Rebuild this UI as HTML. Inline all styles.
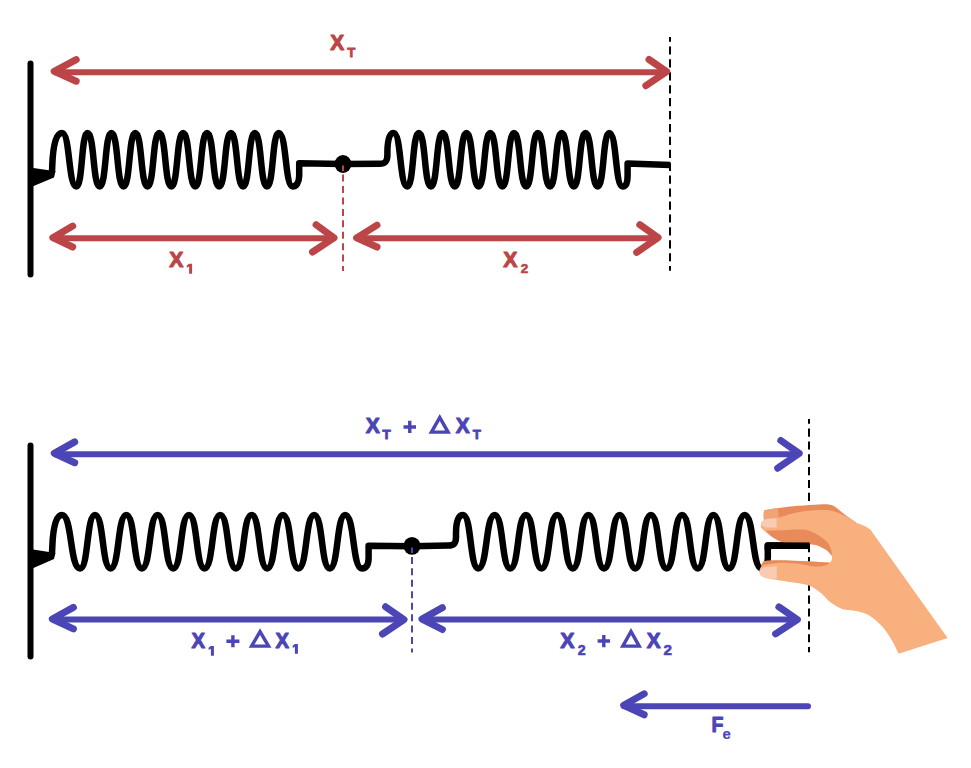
<!DOCTYPE html>
<html><head><meta charset="utf-8"><style>
html,body{margin:0;padding:0;background:#fff;}
body{width:971px;height:768px;overflow:hidden;position:relative;font-family:"Liberation Sans",sans-serif;}
svg{position:absolute;left:0;top:0;}
</style></head><body>
<svg width="971" height="768" viewBox="0 0 971 768">
<line x1="30.5" y1="63.5" x2="30.5" y2="274.5" stroke="#000" stroke-width="6" stroke-linecap="round"/>
<line x1="30.5" y1="445.5" x2="30.5" y2="656.5" stroke="#000" stroke-width="6" stroke-linecap="round"/>
<path d="M30 167.5 L55.5 171.3 L54 177.5 L30 187.5 Z" fill="#000"/>
<path d="M30 549 L55.5 553 L54 559 L30 569.5 Z" fill="#000"/>
<path d="M52 172 L52.3 165 C53 145 56 133 62 133 C70.21 133.00 68.19 186.50 76.40 186.50 C82.73 186.50 81.17 133.00 87.50 133.00 C94.45 133.00 92.75 186.50 99.70 186.50 C106.37 186.50 104.73 133.00 111.40 133.00 C118.35 133.00 116.65 186.50 123.60 186.50 C130.27 186.50 128.63 133.00 135.30 133.00 C142.25 133.00 140.55 186.50 147.50 186.50 C154.17 186.50 152.53 133.00 159.20 133.00 C166.15 133.00 164.45 186.50 171.40 186.50 C178.07 186.50 176.43 133.00 183.10 133.00 C190.05 133.00 188.35 186.50 195.30 186.50 C201.97 186.50 200.33 133.00 207.00 133.00 C213.95 133.00 212.25 186.50 219.20 186.50 C225.87 186.50 224.23 133.00 230.90 133.00 C237.85 133.00 236.15 186.50 243.10 186.50 C249.77 186.50 248.13 133.00 254.80 133.00 C261.75 133.00 260.05 186.50 267.00 186.50 C273.67 186.50 272.03 133.00 278.70 133.00 C286.74 133.00 284.76 186.50 292.80 186.50 C296 186.6 299 183 299.2 176 L299.2 163.3 L343 163.9" fill="none" stroke="#000" stroke-width="6.5" stroke-linejoin="round" stroke-linecap="butt"/>
<path d="M343 163.9 L379.5 163.8 C385 163.8 387.4 161.5 387.4 155 L387.4 152 C387.5 139 389.5 133 393.6 133 C401.41 133.00 399.49 186.50 407.30 186.50 C413.86 186.50 412.25 133.00 418.80 133.00 C425.75 133.00 424.05 186.50 431.00 186.50 C437.62 186.50 435.99 133.00 442.61 133.00 C449.56 133.00 447.86 186.50 454.81 186.50 C461.43 186.50 459.80 133.00 466.42 133.00 C473.37 133.00 471.67 186.50 478.62 186.50 C485.24 186.50 483.61 133.00 490.23 133.00 C497.18 133.00 495.48 186.50 502.43 186.50 C509.05 186.50 507.42 133.00 514.04 133.00 C520.99 133.00 519.29 186.50 526.24 186.50 C532.86 186.50 531.23 133.00 537.85 133.00 C544.80 133.00 543.10 186.50 550.05 186.50 C556.67 186.50 555.04 133.00 561.66 133.00 C568.61 133.00 566.91 186.50 573.86 186.50 C580.48 186.50 578.85 133.00 585.47 133.00 C592.42 133.00 590.72 186.50 597.67 186.50 C604.29 186.50 602.66 133.00 609.28 133.00 C616.87 133.00 615.01 186.50 622.60 186.50 C626 186.6 627.6 183 627.6 176 L627.6 163.5 L670.2 165" fill="none" stroke="#000" stroke-width="6.5" stroke-linejoin="round" stroke-linecap="butt"/>
<path d="M52 553 L52.3 547 C53 527 56 515 62 515 C72.32 515.00 69.78 568.40 80.10 568.40 C88.59 568.40 86.51 515.00 95.00 515.00 C103.89 515.00 101.71 568.40 110.60 568.40 C119.55 568.40 117.36 515.00 126.31 515.00 C135.20 515.00 133.02 568.40 141.91 568.40 C150.86 568.40 148.67 515.00 157.62 515.00 C166.51 515.00 164.33 568.40 173.22 568.40 C182.17 568.40 179.98 515.00 188.93 515.00 C197.82 515.00 195.64 568.40 204.53 568.40 C213.48 568.40 211.29 515.00 220.24 515.00 C229.13 515.00 226.95 568.40 235.84 568.40 C244.79 568.40 242.60 515.00 251.55 515.00 C260.44 515.00 258.26 568.40 267.15 568.40 C276.10 568.40 273.91 515.00 282.86 515.00 C291.75 515.00 289.57 568.40 298.46 568.40 C307.41 568.40 305.22 515.00 314.17 515.00 C323.06 515.00 320.88 568.40 329.77 568.40 C338.57 568.40 336.40 515.00 345.20 515.00 C354.60 515.00 352.30 568.40 361.70 568.40 C366 568.6 368.6 565 368.6 558 L368.6 545.8 L412 546.2" fill="none" stroke="#000" stroke-width="6.5" stroke-linejoin="round" stroke-linecap="butt"/>
<path d="M412 546.2 L448.5 545.6 C454 545.6 456 543.5 456 537 L456 533 C456.1 521 458.5 515 463 515 C471.72 515.00 469.58 568.40 478.30 568.40 C487.65 568.40 485.35 515.00 494.70 515.00 C503.59 515.00 501.41 568.40 510.30 568.40 C519.21 568.40 517.03 515.00 525.94 515.00 C534.83 515.00 532.65 568.40 541.54 568.40 C550.45 568.40 548.27 515.00 557.18 515.00 C566.07 515.00 563.89 568.40 572.78 568.40 C581.69 568.40 579.51 515.00 588.42 515.00 C597.31 515.00 595.13 568.40 604.02 568.40 C612.93 568.40 610.75 515.00 619.66 515.00 C628.55 515.00 626.37 568.40 635.26 568.40 C644.17 568.40 641.99 515.00 650.90 515.00 C659.79 515.00 657.61 568.40 666.50 568.40 C675.41 568.40 673.23 515.00 682.14 515.00 C691.03 515.00 688.85 568.40 697.74 568.40 C706.65 568.40 704.47 515.00 713.38 515.00 C722.27 515.00 720.09 568.40 728.98 568.40 C737.89 568.40 735.71 515.00 744.62 515.00 C754.24 515.00 751.88 568.40 761.50 568.40 C765 568.6 767.8 565 767.8 558 L767.8 545.4 L809.7 545.8" fill="none" stroke="#000" stroke-width="6.5" stroke-linejoin="round" stroke-linecap="butt"/>
<ellipse cx="343" cy="164" rx="8.5" ry="8.9" fill="#000"/>
<ellipse cx="412" cy="545.9" rx="8.5" ry="8.9" fill="#000"/>
<line x1="670" y1="37" x2="670" y2="270.8" stroke="#000" stroke-width="2" stroke-dasharray="8.2 4.72" stroke-dashoffset="3.5"/>
<line x1="343" y1="165.6" x2="343" y2="171.3" stroke="#BC4547" stroke-width="2"/>
<line x1="343" y1="174.6" x2="343" y2="270.9" stroke="#BC4547" stroke-width="2" stroke-dasharray="7 4.43"/>
<line x1="809" y1="418.9" x2="809" y2="652.3" stroke="#000" stroke-width="2" stroke-dasharray="8.1 4.75" stroke-dashoffset="3.2"/>
<line x1="412" y1="547.6" x2="412" y2="553.1" stroke="#4B45B6" stroke-width="2"/>
<line x1="412" y1="556.9" x2="412" y2="652.4" stroke="#4B45B6" stroke-width="2" stroke-dasharray="7 4.45"/>
<line x1="54.2" y1="72.2" x2="666.7" y2="72.2" stroke="#BC4547" stroke-width="6" stroke-linecap="butt"/>
<path d="M76.2 59.6 L54.20 71.30 L76.2 81.2" fill="none" stroke="#BC4547" stroke-width="7" stroke-linecap="round" stroke-linejoin="round"/>
<path d="M649 59.5 L666.70 71.60 L645.9 85.7" fill="none" stroke="#BC4547" stroke-width="7" stroke-linecap="round" stroke-linejoin="round"/>
<line x1="52.8" y1="238.3" x2="334" y2="238.3" stroke="#BC4547" stroke-width="6" stroke-linecap="butt"/>
<path d="M72.7 226.1 L52.80 237.70 L72.7 247" fill="none" stroke="#BC4547" stroke-width="7" stroke-linecap="round" stroke-linejoin="round"/>
<path d="M316.1 224.8 L334.00 237.90 L312.5 252" fill="none" stroke="#BC4547" stroke-width="7" stroke-linecap="round" stroke-linejoin="round"/>
<line x1="356.6" y1="238.3" x2="658.1" y2="238.3" stroke="#BC4547" stroke-width="6" stroke-linecap="butt"/>
<path d="M377 225.1 L356.60 237.90 L377 247" fill="none" stroke="#BC4547" stroke-width="7" stroke-linecap="round" stroke-linejoin="round"/>
<path d="M639.8 224.7 L658.10 237.60 L636.7 252.4" fill="none" stroke="#BC4547" stroke-width="7" stroke-linecap="round" stroke-linejoin="round"/>
<line x1="54.25" y1="454.2" x2="799.2" y2="454.2" stroke="#4B45B6" stroke-width="6" stroke-linecap="butt"/>
<path d="M74.7 441.9 L54.25 453.40 L74.7 462.7" fill="none" stroke="#4B45B6" stroke-width="7" stroke-linecap="round" stroke-linejoin="round"/>
<path d="M780.8 440.5 L799.20 453.40 L777.7 468.2" fill="none" stroke="#4B45B6" stroke-width="7" stroke-linecap="round" stroke-linejoin="round"/>
<line x1="52.3" y1="619.6" x2="404" y2="619.6" stroke="#4B45B6" stroke-width="6" stroke-linecap="butt"/>
<path d="M73.4 607.4 L52.30 619.00 L73.4 628.9" fill="none" stroke="#4B45B6" stroke-width="7" stroke-linecap="round" stroke-linejoin="round"/>
<path d="M385.6 606.8 L404.00 619.60 L382.5 634" fill="none" stroke="#4B45B6" stroke-width="7" stroke-linecap="round" stroke-linejoin="round"/>
<line x1="422" y1="619.6" x2="797.4" y2="619.6" stroke="#4B45B6" stroke-width="6" stroke-linecap="butt"/>
<path d="M442.4 607.6 L422.00 619.10 L442.4 629.5" fill="none" stroke="#4B45B6" stroke-width="7" stroke-linecap="round" stroke-linejoin="round"/>
<path d="M778.9 606.9 L797.40 619.60 L775.6 633.9" fill="none" stroke="#4B45B6" stroke-width="7" stroke-linecap="round" stroke-linejoin="round"/>
<line x1="624" y1="706.2" x2="808" y2="706.2" stroke="#4B45B6" stroke-width="6" stroke-linecap="round"/>
<path d="M644.2 693.8 L623.70 705.30 L644.2 714.8" fill="none" stroke="#4B45B6" stroke-width="7" stroke-linecap="round" stroke-linejoin="round"/>
<path d="M764.40 510.30 C766.68 509.92 772.45 508.75 778.10 508.00 C783.75 507.25 791.33 506.40 798.30 505.80 C805.27 505.20 814.62 504.57 819.90 504.40 C825.18 504.23 827.37 504.32 830.00 504.80 C832.63 505.28 832.82 505.33 835.70 507.30 C838.58 509.27 843.92 514.08 847.30 516.60 C850.68 519.12 854.55 521.43 856.00 522.40 L850 532 L775 528 L764 518 Z" fill="#E88A5A"/>
<path d="M764.40 510.30 C765.50 510.08 768.72 509.38 771.00 509.00 C773.28 508.62 776.92 508.17 778.10 508.00 L779 520 L764 520 C763 516 763.2 512 764.4 510.3 Z" fill="#F2A373"/>
<path d="M761.50 522.40 C762.25 521.93 763.48 520.33 766.00 519.60 C768.52 518.87 771.22 519.22 776.60 518.00 C781.98 516.78 791.08 513.62 798.30 512.30 C805.52 510.98 813.90 510.22 819.90 510.10 C825.90 509.98 829.50 510.28 834.30 511.60 C839.10 512.92 845.10 516.20 848.70 518.00 C852.30 519.80 853.25 521.07 855.90 522.40 C858.55 523.73 862.20 524.80 864.60 526.00 C867.00 527.20 869.35 529.00 870.30 529.60 L947.6 637.9 L898.6 653.7 C897.52 651.53 894.87 645.27 892.10 640.70 C889.33 636.13 885.60 630.38 882.00 626.30 C878.40 622.22 874.10 618.60 870.50 616.20 C866.90 613.80 863.75 612.90 860.40 611.90 C857.05 610.90 853.53 610.72 850.40 610.20 C847.27 609.68 844.95 610.13 841.60 608.80 C838.25 607.47 833.52 604.63 830.30 602.20 C827.08 599.77 824.97 596.53 822.30 594.20 C819.63 591.87 816.98 589.77 814.30 588.20 C811.62 586.63 810.22 585.82 806.20 584.80 C802.18 583.78 796.22 583.10 790.20 582.10 C784.18 581.10 774.80 579.80 770.10 578.80 C765.40 577.80 763.78 577.33 762.00 576.10 C760.22 574.87 759.48 573.08 759.40 571.40 C759.32 569.72 760.38 567.70 761.50 566.00 C762.62 564.30 761.32 562.05 766.10 561.20 C770.88 560.35 782.85 560.83 790.20 560.90 C797.55 560.97 803.52 561.32 810.20 561.60 C816.88 561.88 826.95 562.43 830.30 562.60 L831.8 560 C831.73 559.17 832.67 556.87 831.40 555.00 C830.13 553.13 826.60 550.43 824.20 548.80 C821.80 547.17 819.65 546.00 817.00 545.20 C814.35 544.40 811.42 544.27 808.30 544.00 C805.18 543.73 802.38 543.83 798.30 543.60 C794.22 543.37 788.13 543.70 783.80 542.60 C779.47 541.50 775.43 538.85 772.30 537.00 C769.17 535.15 766.88 533.17 765.00 531.50 C763.12 529.83 761.58 528.52 761.00 527.00 C760.42 525.48 761.42 523.17 761.50 522.40 Z" fill="#F8B07F"/>
<path d="M766.00 530.60 C768.97 530.55 777.70 530.47 783.80 530.30 C789.90 530.13 797.78 529.27 802.60 529.60 C807.42 529.93 809.33 530.85 812.70 532.30 C816.07 533.75 820.17 536.35 822.80 538.30 C825.43 540.25 827.07 541.88 828.50 544.00 C829.93 546.12 830.85 549.00 831.40 551.00 C831.95 553.00 831.73 555.17 831.80 556.00 C831.17 555.17 829.27 552.20 828.00 551.00 C826.73 549.80 826.03 549.77 824.20 548.80 C822.37 547.83 819.65 546.00 817.00 545.20 C814.35 544.40 811.42 544.27 808.30 544.00 C805.18 543.73 802.38 543.83 798.30 543.60 C794.22 543.37 788.13 543.70 783.80 542.60 C779.47 541.50 775.27 539.00 772.30 537.00 C769.33 535.00 767.05 531.67 766.00 530.60 Z" fill="#E88A5A"/>
<path d="M760.70 565.60 C761.08 565.08 762.10 563.32 763.00 562.50 C763.90 561.68 761.57 561.05 766.10 560.70 C770.63 560.35 782.85 560.28 790.20 560.40 C797.55 560.52 803.52 561.02 810.20 561.40 C816.88 561.78 826.95 562.48 830.30 562.70 C829.42 563.17 827.67 564.87 825.00 565.50 C822.33 566.13 818.98 566.82 814.30 566.50 C809.62 566.18 803.15 564.20 796.90 563.60 C790.65 563.00 782.83 562.57 776.80 562.90 C770.77 563.23 763.38 565.15 760.70 565.60 Z" fill="#E88A5A"/>
<path d="M767.8 550 L767.8 545.4 L809.7 545.8" fill="none" stroke="#000" stroke-width="6.5" stroke-linejoin="round"/>
<path d="M776.6 518.2 L776.6 527.4 L767 527.4 C762.5 527 760.6 524.8 761.2 522.6 C762.5 519.6 767 518.4 776.6 518.2 Z" fill="#F8CBB2"/>
<path d="M776.8 566.2 L776.8 578.8 L767 578.4 C761.5 577.5 759.2 574.5 759.5 571.5 C760.2 568 763.5 566.5 776.8 566.2 Z" fill="#F8CBB2"/>
<g font-family="Liberation Sans, sans-serif" font-weight="bold">
<text transform="translate(330.34 50.35) scale(0.2093 0.2145)" font-size="100" fill="#BC4547" stroke="#BC4547" stroke-width="1.1" vector-effect="non-scaling-stroke" stroke-linejoin="round">X</text>
<text transform="translate(347.37 57.37) scale(0.1322 0.1314)" font-size="100" fill="#BC4547" stroke="#BC4547" stroke-width="0.8" vector-effect="non-scaling-stroke" stroke-linejoin="round">T</text>
<text transform="translate(169.24 266.65) scale(0.2124 0.2174)" font-size="100" fill="#BC4547" stroke="#BC4547" stroke-width="1.1" vector-effect="non-scaling-stroke" stroke-linejoin="round">X</text>
<path d="M189.00 263.80 L192.10 263.80 L192.10 273.70 L189.10 273.70 L189.10 266.60 L186.80 267.70 L186.80 265.50 Z" fill="#BC4547"/>
<text transform="translate(503.34 266.65) scale(0.2124 0.2174)" font-size="100" fill="#BC4547" stroke="#BC4547" stroke-width="1.1" vector-effect="non-scaling-stroke" stroke-linejoin="round">X</text>
<text transform="translate(520.73 273.40) scale(0.1354 0.1329)" font-size="100" fill="#BC4547" stroke="#BC4547" stroke-width="0.6" vector-effect="non-scaling-stroke" stroke-linejoin="round">2</text>
<text transform="translate(365.74 432.85) scale(0.2109 0.2217)" font-size="100" fill="#4B45B6" stroke="#4B45B6" stroke-width="1.1" vector-effect="non-scaling-stroke" stroke-linejoin="round">X</text>
<text transform="translate(382.36 439.16) scale(0.1390 0.1299)" font-size="100" fill="#4B45B6" stroke="#4B45B6" stroke-width="0.8" vector-effect="non-scaling-stroke" stroke-linejoin="round">T</text>
<path d="M403.5 426.95000000000005 H416 M409.75 420.8 V433.1" stroke="#4B45B6" stroke-width="3.4" fill="none"/>
<path d="M439.75 414.10 L451.00 433.80 L428.50 433.80 Z M434.36 430.40 L445.14 430.40 L439.75 420.96 Z" fill="#4B45B6" fill-rule="evenodd"/>
<text transform="translate(455.64 432.85) scale(0.2078 0.2217)" font-size="100" fill="#4B45B6" stroke="#4B45B6" stroke-width="1.1" vector-effect="non-scaling-stroke" stroke-linejoin="round">X</text>
<text transform="translate(472.77 439.16) scale(0.1339 0.1299)" font-size="100" fill="#4B45B6" stroke="#4B45B6" stroke-width="0.8" vector-effect="non-scaling-stroke" stroke-linejoin="round">T</text>
<text transform="translate(191.55 648.45) scale(0.2031 0.2188)" font-size="100" fill="#4B45B6" stroke="#4B45B6" stroke-width="1.1" vector-effect="non-scaling-stroke" stroke-linejoin="round">X</text>
<path d="M210.80 646.00 L213.90 646.00 L213.90 655.80 L210.90 655.80 L210.90 648.80 L208.60 649.90 L208.60 647.70 Z" fill="#4B45B6"/>
<path d="M226.4 641.2 H239.4 M232.9 635.2 V647.2" stroke="#4B45B6" stroke-width="3.4" fill="none"/>
<path d="M260.05 628.20 L271.50 647.80 L248.60 647.80 Z M254.52 644.40 L265.58 644.40 L260.05 634.94 Z" fill="#4B45B6" fill-rule="evenodd"/>
<text transform="translate(275.55 648.45) scale(0.2031 0.2188)" font-size="100" fill="#4B45B6" stroke="#4B45B6" stroke-width="1.1" vector-effect="non-scaling-stroke" stroke-linejoin="round">X</text>
<path d="M294.90 644.00 L297.90 644.00 L297.90 653.80 L294.90 653.80 L294.90 646.80 L292.70 647.90 L292.70 645.70 Z" fill="#4B45B6"/>
<text transform="translate(560.24 648.45) scale(0.2140 0.2217)" font-size="100" fill="#4B45B6" stroke="#4B45B6" stroke-width="1.1" vector-effect="non-scaling-stroke" stroke-linejoin="round">X</text>
<text transform="translate(577.70 655.30) scale(0.1417 0.1529)" font-size="100" fill="#4B45B6" stroke="#4B45B6" stroke-width="0.6" vector-effect="non-scaling-stroke" stroke-linejoin="round">2</text>
<path d="M597.6 641.05 H610 M603.8 634.9 V647.2" stroke="#4B45B6" stroke-width="3.4" fill="none"/>
<path d="M631.00 628.00 L642.10 647.80 L619.90 647.80 Z M625.70 644.40 L636.30 644.40 L631.00 634.95 Z" fill="#4B45B6" fill-rule="evenodd"/>
<text transform="translate(646.74 648.45) scale(0.2078 0.2217)" font-size="100" fill="#4B45B6" stroke="#4B45B6" stroke-width="1.1" vector-effect="non-scaling-stroke" stroke-linejoin="round">X</text>
<text transform="translate(663.47 655.30) scale(0.1521 0.1529)" font-size="100" fill="#4B45B6" stroke="#4B45B6" stroke-width="0.6" vector-effect="non-scaling-stroke" stroke-linejoin="round">2</text>
<text transform="translate(711.48 732.46) scale(0.1961 0.2161)" font-size="100" fill="#4B45B6" stroke="#4B45B6" stroke-width="0.9" vector-effect="non-scaling-stroke" stroke-linejoin="round">F</text>
<text transform="translate(722.51 738.76) scale(0.1479 0.1382)" font-size="100" fill="#4B45B6" stroke="#4B45B6" stroke-width="0.2" vector-effect="non-scaling-stroke" stroke-linejoin="round">e</text>
</g>
</svg>
</body></html>
